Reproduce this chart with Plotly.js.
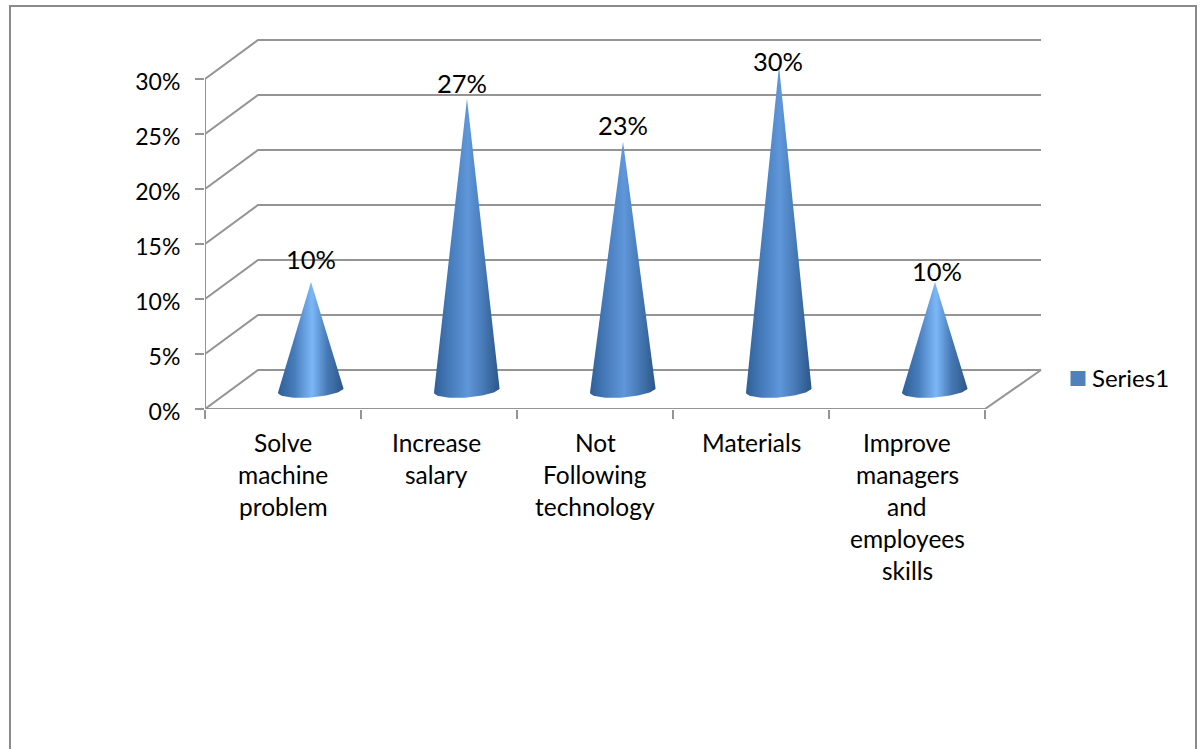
<!DOCTYPE html>
<html>
<head>
<meta charset="utf-8">
<script src="https://cdn.plot.ly/plotly-3.0.1.min.js"></script>
<style>html,body{margin:0;padding:0;background:#fff;overflow:hidden}</style>
</head>
<body>
<div id="chart" style="width:1201px;height:749px"></div>
<script>
// Survey results
const categories = ["Solve<br>machine<br>problem", "Increase<br>salary", "Not<br>Following<br>technology", "Materials", "Improve<br>managers<br>and<br>employees<br>skills"];
const values = [10, 27, 23, 30, 10];
const valueLabels = ["10%", "27%", "23%", "30%", "10%"];
const yTicks = [0, 5, 10, 15, 20, 25, 30];
const yTickLabels = ["0%", "5%", "10%", "15%", "20%", "25%", "30%"];
const seriesName = "Series1";

// Pixel scale of the front plane: 0..30 spans 79..409, categories span 205..985
const W = 1201, H = 749, L = 205, B = 409;
const pxX = 156, pxY = 11;
// The plot box leaves headroom for the receding 3D walls
const PLOT_R = 1060, PLOT_T = 30;
const xMax = -0.5 + (PLOT_R - L) / pxX;
const yMax = (B - PLOT_T) / pxY;

// Oblique depth of the 3D box, in axis units
const depthLeft = 53 / pxX, depthRight = 56 / pxX, depthY = 39 / pxY;

// Cone geometry, in axis units
const coneOffsetX = 28 / pxX, coneBaseY = 19 / pxY, coneScale = 10.8 / pxY;
const radiusX = 33 / pxX, radiusY = 7.5 / pxY, tiltY = 2.5 / pxY;

const FONT = "Lato, 'Open Sans', sans-serif";
const GREY = "#949494";
const traces = [];
const lineTrace = (x, y) => ({
  x, y, mode: "lines", line: {color: GREY, width: 2},
  hoverinfo: "skip", showlegend: false
});

// Back wall gridlines, folded along the left side wall
yTicks.forEach(v => {
  traces.push(lineTrace([-0.5, -0.5 + depthLeft, 4.5 + depthRight], [v, v + depthY, v + depthY]));
});
// Floor edge and the two front axis lines
traces.push(lineTrace([4.5, 4.5 + depthRight], [0, depthY]));
traces.push(lineTrace([-0.5, 4.5], [0, 0]));
traces.push(lineTrace([-0.5, -0.5], [0, 30]));

// One shaded cone per category
values.forEach((v, i) => {
  const cx = i + coneOffsetX;
  const xs = [cx], ys = [coneBaseY + v * coneScale];
  for (let k = 0; k <= 40; k++) {
    const a = Math.PI * k / 40;
    xs.push(cx + radiusX * Math.cos(a));
    ys.push(coneBaseY + tiltY * Math.cos(a) - radiusY * Math.sin(a));
  }
  xs.push(cx); ys.push(coneBaseY + v * coneScale);
  const peak = v <= 10 ? "#7db7f8" : "#5f97da";
  traces.push({
    x: xs, y: ys, mode: "lines", fill: "toself",
    line: {width: 0, color: "rgba(0,0,0,0)"},
    fillgradient: {type: "horizontal", colorscale: [
      [0, "#2f5f96"], [0.25, "#477cbc"], [0.52, peak], [0.75, "#4779b6"], [1, "#2b5788"]
    ]},
    hoverinfo: "skip", showlegend: false
  });
});

// Legend entry
traces.push({
  x: [null], y: [null], mode: "markers", name: seriesName,
  marker: {symbol: "square", size: 15, color: "#4f81bd"}
});

// Value labels above the tips
const labelShift = [[0, 23], [-5, 15], [0, 17], [-1, 5], [2, 11]];
const annotations = values.map((v, i) => ({
  x: i + coneOffsetX, y: coneBaseY + v * coneScale, text: valueLabels[i],
  xref: "x", yref: "y", showarrow: false, xanchor: "center", yanchor: "middle",
  xshift: labelShift[i][0], yshift: labelShift[i][1],
  font: {family: FONT, size: 25.5, color: "#000"}
}));

// Category labels, one annotation per line for the wide leading
const categoryShift = [0, -3, 0, 0, 0];
categories.forEach((c, i) => {
  c.split("<br>").forEach((line, k) => {
    annotations.push({
      x: i, y: 0, text: line, xref: "x", yref: "y", showarrow: false,
      xanchor: "center", yanchor: "middle", xshift: categoryShift[i], yshift: -(33 + 32 * k),
      font: {family: FONT, size: 24.5, color: "#000"}
    });
  });
});

const boundaries = categories.concat("").map((_, i) => i - 0.5);
const px = x => (x - L) / (PLOT_R - L), py = y => (B - y) / (B - PLOT_T);

const layout = {
  width: W, height: H,
  margin: {l: L, r: W - PLOT_R, t: PLOT_T, b: H - B},
  paper_bgcolor: "#fff", plot_bgcolor: "rgba(0,0,0,0)",
  font: {family: FONT, color: "#000"},
  showlegend: true,
  legend: {
    x: px(1058), y: py(378), xanchor: "left", yanchor: "middle", indentation: -6,
    bgcolor: "rgba(0,0,0,0)", font: {family: FONT, size: 24, color: "#000"}
  },
  xaxis: {
    range: [-0.5, xMax], showgrid: false, zeroline: false, showline: false,
    ticks: "outside", ticklen: 9, tickwidth: 2, tickcolor: GREY,
    tickmode: "array", tickvals: boundaries, ticktext: boundaries.map(() => ""), fixedrange: true
  },
  yaxis: {
    range: [0, yMax], showgrid: false, zeroline: false, showline: false,
    ticks: "outside", ticklen: 9, tickwidth: 2, tickcolor: GREY,
    tickmode: "array", tickvals: yTicks, ticktext: yTickLabels,
    ticklabelstandoff: 10, ticklabelshift: 3,
    tickfont: {family: FONT, size: 23, color: "#000"}, fixedrange: true
  },
  annotations: annotations,
  shapes: [{
    // Open-bottomed page frame
    type: "path", xref: "paper", yref: "paper",
    path: `M ${px(10)} ${py(H + 5)} L ${px(10)} ${py(6)} L ${px(1196)} ${py(6)} L ${px(1196)} ${py(H + 5)}`,
    line: {color: "#8a8a8a", width: 2}
  }]
};

Plotly.newPlot("chart", traces, layout, {displayModeBar: false, staticPlot: true}).then(gd => {
  // Tuck the legend swatch closer to its label
  const swatch = gd.querySelector(".legend .legendsymbols");
  if (swatch) swatch.setAttribute("transform", "translate(6,1)");
});
</script>
</body>
</html>
